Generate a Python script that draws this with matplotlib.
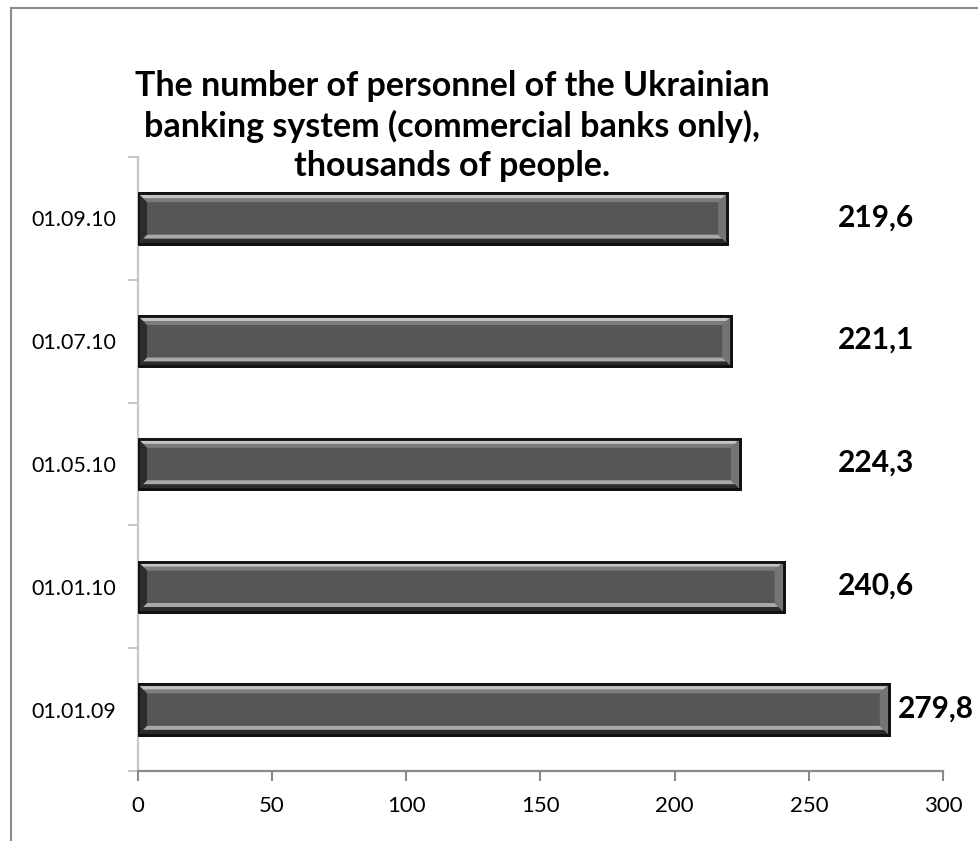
"""
Headcount of Ukrainian commercial banks, horizontal bevelled bars.
"""

import matplotlib

matplotlib.use("Agg")
import matplotlib.pyplot as plt  # noqa: E402
from matplotlib.patches import Rectangle  # noqa: E402

dates = ["01.01.09", "01.01.10", "01.05.10", "01.07.10", "01.09.10"]
staff = [279.8, 240.6, 224.3, 221.1, 219.6]
value_labels = ["279,8", "240,6", "224,3", "221,1", "219,6"]
x_ticks = [0, 50, 100, 150, 200, 250, 300]

TITLE = ("The number of personnel of the Ukrainian\n"
         "banking system (commercial banks only),\n"
         "thousands of people.")

plt.rcParams["font.family"] = ["Lato", "DejaVu Sans"]

W, H = 979, 841
fig = plt.figure(figsize=(W / 100, H / 100), dpi=100)
ax = fig.add_axes([138 / W, 70 / H, (943 - 138) / W, (771 - 157) / H])

bar_h = 0.41
ax.set_xlim(0, 300)
ax.set_ylim(-0.5, len(dates) - 0.5)

# pixel -> data sizes for the bevel
px_x = 300 / (943 - 138)
px_y = len(dates) / (771 - 157)
bx, by = 9 * px_x, 9 * px_y


def bevel_bar(ax, y, v):
    top, bot = y + bar_h / 2, y - bar_h / 2
    ax.barh(y, v, height=bar_h, color="#565656", edgecolor="#101010",
            linewidth=2, zorder=2)
    # top bevel: bright rim fading into the face
    ax.fill([0, v, v - bx, bx], [top, top, top - by, top - by],
            color="#7c7c7c", zorder=3, lw=0)
    ax.fill([0, v, v - bx * 0.55, bx * 0.55],
            [top, top, top - by * 0.55, top - by * 0.55],
            color="#c4c4c4", zorder=3, lw=0)
    ax.fill([0, v, v - bx * 0.2, bx * 0.2],
            [top, top, top - by * 0.2, top - by * 0.2],
            color="#8a8a8a", zorder=3, lw=0)
    # bottom bevel: dark with a light inner line
    ax.fill([0, v, v - bx, bx], [bot, bot, bot + by, bot + by],
            color="#2a2a2a", zorder=3, lw=0)
    ax.fill([bx * 0.55, v - bx * 0.55, v - bx, bx],
            [bot + by * 0.55, bot + by * 0.55, bot + by, bot + by],
            color="#a8a8a8", zorder=3, lw=0)
    # left / right bevels
    ax.fill([0, bx, bx, 0], [bot, bot + by, top - by, top],
            color="#2c2c2c", zorder=3, lw=0)
    ax.fill([v, v - bx, v - bx, v], [bot, bot + by, top - by, top],
            color="#747474", zorder=3, lw=0)
    ax.barh(y, v, height=bar_h, fill=False, edgecolor="#101010",
            linewidth=2, zorder=4)


for i, v in enumerate(staff):
    bevel_bar(ax, i, v)
    ax.text(max(v + 3.5, 261), i + 0.01, value_labels[i], ha="left",
            va="center", fontsize=21.5, fontweight="bold", color="black")

ax.set_yticks(range(len(dates)))
ax.set_yticklabels(dates, fontsize=15.5)
ax.set_yticks([i - 0.5 for i in range(len(dates) + 1)], minor=True)
ax.tick_params(axis="y", which="major", length=0, pad=16)
ax.tick_params(axis="y", which="minor", length=7, width=1.2, color="#bfbfbf")

ax.set_xticks(x_ticks)
ax.tick_params(axis="x", length=7, width=1.5, color="#8a8a8a",
               labelsize=16, pad=11)

for s in ("top", "right"):
    ax.spines[s].set_visible(False)
ax.spines["left"].set_color("#c8c8c8")
ax.spines["left"].set_linewidth(1.6)
ax.spines["bottom"].set_color("#8a8a8a")
ax.spines["bottom"].set_linewidth(1.6)

fig.text(452 / W, 1 - 126 / H, TITLE, ha="center", va="center",
         fontsize=24.5, fontweight="bold", linespacing=1.27)

# chart area frame (right/bottom run off the picture)
fig.patches.append(Rectangle((11 / W, -0.1), 1.2, 1.1 - 8 / H,
                             transform=fig.transFigure, fill=False,
                             edgecolor="#8c8c8c", linewidth=1.5))

fig.savefig("out.png", dpi=100)
